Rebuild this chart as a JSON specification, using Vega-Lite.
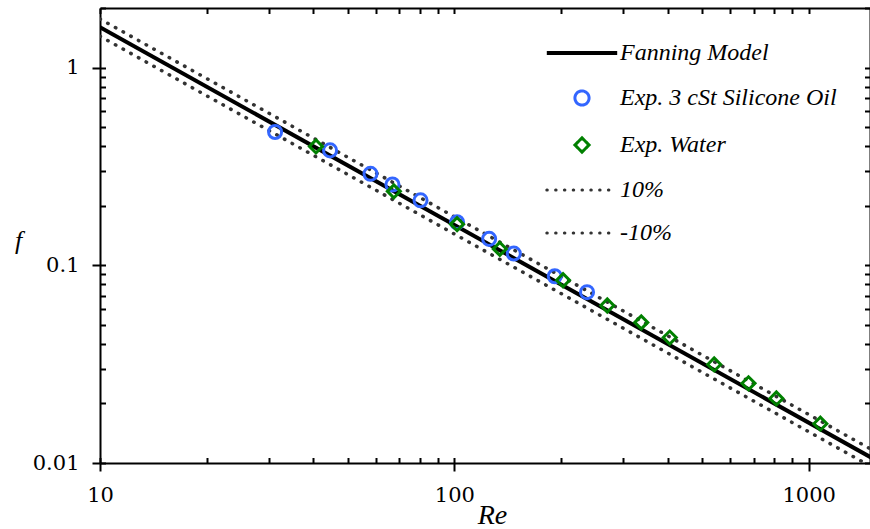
{
  "$schema": "https://vega.github.io/schema/vega-lite/v6.json",
  "width": 770,
  "height": 455,
  "autosize": {"type": "none"},
  "padding": {"left": 100, "top": 8, "right": 0, "bottom": 66},
  "background": "white",
  "config": {
    "font": "DejaVu Serif",
    "view": {"stroke": null},
    "axis": {
      "grid": false,
      "labelFont": "DejaVu Serif",
      "labelFontSize": 21,
      "labelColor": "black",
      "titleFont": "serif",
      "titleFontStyle": "italic",
      "titleFontWeight": "normal",
      "titleColor": "black",
      "tickColor": "black",
      "tickWidth": 2,
      "domainColor": "black",
      "domainWidth": 2
    },
    "legend": {"labelFont": "Times New Roman"}
  },
  "datasets": {
    "fanning": [
      {"series": "Fanning Model", "Re": 10, "f": 1.6},
      {"series": "Fanning Model", "Re": 1500, "f": 0.010667}
    ],
    "bounds": [
      {"series": "10%", "Re": 10, "f": 1.76},
      {"series": "10%", "Re": 1500, "f": 0.011733},
      {"series": "-10%", "Re": 10, "f": 1.44},
      {"series": "-10%", "Re": 1500, "f": 0.0096}
    ],
    "exp": [
      {"series": "Exp. 3 cSt Silicone Oil", "Re": 31.2, "f": 0.472},
      {"series": "Exp. 3 cSt Silicone Oil", "Re": 44.6, "f": 0.381},
      {"series": "Exp. 3 cSt Silicone Oil", "Re": 58.0, "f": 0.29},
      {"series": "Exp. 3 cSt Silicone Oil", "Re": 66.9, "f": 0.256},
      {"series": "Exp. 3 cSt Silicone Oil", "Re": 80.3, "f": 0.213},
      {"series": "Exp. 3 cSt Silicone Oil", "Re": 101.8, "f": 0.165},
      {"series": "Exp. 3 cSt Silicone Oil", "Re": 125.4, "f": 0.136},
      {"series": "Exp. 3 cSt Silicone Oil", "Re": 147.2, "f": 0.1146},
      {"series": "Exp. 3 cSt Silicone Oil", "Re": 192.1, "f": 0.088},
      {"series": "Exp. 3 cSt Silicone Oil", "Re": 236.9, "f": 0.0731},
      {"series": "Exp. Water", "Re": 40.7, "f": 0.399},
      {"series": "Exp. Water", "Re": 67.5, "f": 0.2365},
      {"series": "Exp. Water", "Re": 101.8, "f": 0.1614},
      {"series": "Exp. Water", "Re": 134.4, "f": 0.121},
      {"series": "Exp. Water", "Re": 202.7, "f": 0.084},
      {"series": "Exp. Water", "Re": 270.2, "f": 0.0626},
      {"series": "Exp. Water", "Re": 337, "f": 0.0514},
      {"series": "Exp. Water", "Re": 405.5, "f": 0.0431},
      {"series": "Exp. Water", "Re": 541.3, "f": 0.0315},
      {"series": "Exp. Water", "Re": 676.5, "f": 0.0253},
      {"series": "Exp. Water", "Re": 810.8, "f": 0.0212},
      {"series": "Exp. Water", "Re": 1079, "f": 0.0158}
    ]
  },
  "resolve": {"axis": {"x": "independent", "y": "independent"}},
  "layer": [
    {
      "data": {"name": "fanning"},
      "mark": {"type": "line", "strokeWidth": 4, "clip": true},
      "encoding": {
        "x": {
          "field": "Re", "type": "quantitative",
          "scale": {"type": "log", "domain": [10, 1490], "nice": false},
          "axis": {
            "orient": "bottom", "values": [10, 100, 1000], "format": "~g",
            "labelFlush": false, "labelOverlap": false, "tickSize": 8, "labelPadding": 13,
            "title": "Re", "titleX": 392, "titleY": 60, "titleAlign": "center",
            "titleBaseline": "alphabetic", "titleFontSize": 28
          }
        },
        "y": {
          "field": "f", "type": "quantitative",
          "scale": {"type": "log", "domain": [0.01, 2], "nice": false},
          "axis": {
            "orient": "left", "values": [0.01, 0.1, 1], "format": "~g",
            "labelFlush": false, "labelOverlap": false, "tickSize": 8, "labelPadding": 13,
            "title": "f", "titleAngle": 0, "titleX": -82, "titleY": 240, "titleAlign": "center",
            "titleBaseline": "alphabetic", "titleFontSize": 26
          }
        },
        "color": {
          "field": "series", "type": "nominal",
          "scale": {
            "domain": ["Fanning Model", "Exp. 3 cSt Silicone Oil", "Exp. Water", "10%", "-10%"],
            "range": ["black", "#3366ff", "#008000", "#333333", "#333333"]
          },
          "legend": {
            "orient": "none", "legendX": 470, "legendY": 33, "title": null, "padding": 0,
            "symbolSize": 256, "labelOffset": 26, "rowPadding": 19, "labelLimit": 400,
            "labelFontStyle": "italic", "labelFontSize": 24, "labelColor": "black",
            "encode": {
              "symbols": {
                "update": {
                  "shape": {"signal": "datum.value === 'Exp. 3 cSt Silicone Oil' ? 'circle' : (datum.value === 'Exp. Water' ? 'diamond' : 'M-4.4,0H4.4')"},
                  "size": {"signal": "(datum.value === 'Exp. 3 cSt Silicone Oil' || datum.value === 'Exp. Water') ? 200 : 256"},
                  "strokeDash": {"signal": "(datum.value === '10%' || datum.value === '-10%') ? [0.5, 8.3] : [1, 0]"},
                  "strokeWidth": {"signal": "datum.value === 'Fanning Model' ? 4 : 3"},
                  "strokeCap": {"signal": "(datum.value === '10%' || datum.value === '-10%') ? 'round' : 'butt'"},
                  "fill": {"value": "transparent"},
                  "stroke": {"scale": "color", "field": "value"},
                  "opacity": {"value": 1}
                }
              }
            }
          }
        }
      }
    },
    {
      "data": {"name": "bounds"},
      "mark": {"type": "line", "strokeWidth": 3.5, "strokeCap": "round", "strokeDash": [0.5, 8.3], "clip": true},
      "encoding": {
        "x": {
          "field": "Re", "type": "quantitative",
          "scale": {"type": "log", "domain": [10, 1490], "nice": false},
          "axis": {
            "orient": "bottom",
            "values": [10, 20, 30, 40, 50, 60, 70, 80, 90, 100, 200, 300, 400, 500, 600, 700, 800, 900, 1000],
            "tickSize": -5.5, "labels": false, "domain": false, "title": null
          }
        },
        "y": {
          "field": "f", "type": "quantitative",
          "scale": {"type": "log", "domain": [0.01, 2], "nice": false},
          "axis": {
            "orient": "left",
            "values": [0.01, 0.02, 0.03, 0.04, 0.05, 0.06, 0.07, 0.08, 0.09, 0.1, 0.2, 0.3, 0.4, 0.5, 0.6, 0.7, 0.8, 0.9, 1, 2],
            "tickSize": -5.5, "labels": false, "domain": false, "title": null
          }
        },
        "color": {
          "field": "series", "type": "nominal",
          "scale": {
            "domain": ["Fanning Model", "Exp. 3 cSt Silicone Oil", "Exp. Water", "10%", "-10%"],
            "range": ["black", "#3366ff", "#008000", "#333333", "#333333"]
          },
          "legend": {
            "orient": "none", "legendX": 470, "legendY": 33, "title": null, "padding": 0,
            "symbolSize": 256, "labelOffset": 26, "rowPadding": 19, "labelLimit": 400,
            "labelFontStyle": "italic", "labelFontSize": 24, "labelColor": "black"
          }
        }
      }
    },
    {
      "data": {"name": "exp"},
      "mark": {"type": "point", "filled": false, "strokeWidth": 3, "size": 170, "opacity": 1},
      "encoding": {
        "x": {
          "field": "Re", "type": "quantitative",
          "scale": {"type": "log", "domain": [10, 1490], "nice": false},
          "axis": {
            "orient": "top",
            "values": [10, 20, 30, 40, 50, 60, 70, 80, 90, 100, 200, 300, 400, 500, 600, 700, 800, 900, 1000],
            "tickSize": -5.5, "labels": false, "domain": true, "title": null
          }
        },
        "y": {
          "field": "f", "type": "quantitative",
          "scale": {"type": "log", "domain": [0.01, 2], "nice": false},
          "axis": {
            "orient": "right",
            "values": [0.01, 0.02, 0.03, 0.04, 0.05, 0.06, 0.07, 0.08, 0.09, 0.1, 0.2, 0.3, 0.4, 0.5, 0.6, 0.7, 0.8, 0.9, 1, 2],
            "tickSize": -5.5, "labels": false, "domain": true, "title": null
          }
        },
        "shape": {
          "field": "series", "type": "nominal",
          "scale": {"domain": ["Exp. 3 cSt Silicone Oil", "Exp. Water"], "range": ["circle", "diamond"]},
          "legend": null
        },
        "color": {
          "field": "series", "type": "nominal",
          "scale": {
            "domain": ["Fanning Model", "Exp. 3 cSt Silicone Oil", "Exp. Water", "10%", "-10%"],
            "range": ["black", "#3366ff", "#008000", "#333333", "#333333"]
          },
          "legend": {
            "orient": "none", "legendX": 470, "legendY": 33, "title": null, "padding": 0,
            "symbolSize": 256, "labelOffset": 26, "rowPadding": 19, "labelLimit": 400,
            "labelFontStyle": "italic", "labelFontSize": 24, "labelColor": "black"
          }
        }
      }
    }
  ]
}
